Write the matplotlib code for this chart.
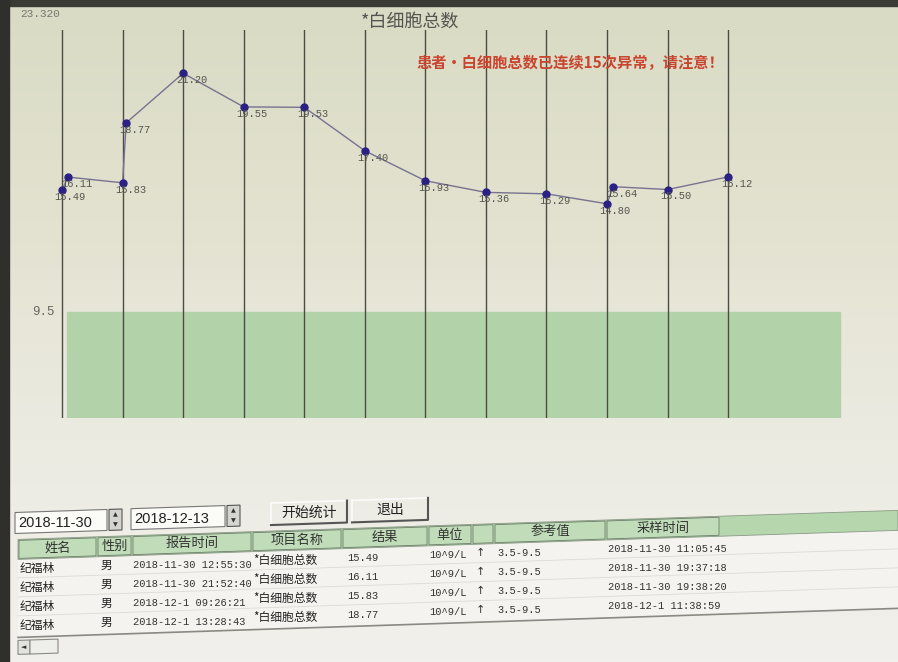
import numpy as np
import matplotlib.pyplot as plt
import matplotlib.transforms as mtransforms
from matplotlib.patches import Rectangle
from matplotlib.colors import LinearSegmentedColormap

plt.rcParams['font.family'] = ['Noto Sans CJK SC', 'DejaVu Sans']

# chart data: day index of each test (second test on the same day sits a bit right)
sample_day = [0, 0.1, 1, 1.06, 2, 3, 4, 5, 6, 7, 8, 9, 9.1, 10, 11]
wbc_values = [15.49, 16.11, 15.83, 18.77, 21.20, 19.55, 19.53, 17.40,
              15.93, 15.36, 15.29, 14.80, 15.64, 15.50, 16.12]
day_lines = list(range(12))
ref_low, ref_high = 3.5, 9.5
y_top = 23.32
chart_title = '*白细胞总数'
warning = '患者•白细胞总数已连续15次异常，请注意！'

# table data
date_from, date_to = '2018-11-30', '2018-12-13'
buttons = ['开始统计', '退出']
headers = ['姓名', '性别', '报告时间', '项目名称', '结果', '单位', '', '参考值', '采样时间']
names = ['纪福林'] * 4
sexes = ['男'] * 4
report_times = ['2018-11-30 12:55:30', '2018-11-30 21:52:40',
                '2018-12-1 09:26:21', '2018-12-1 13:28:43']
items = ['*白细胞总数'] * 4
results = ['15.49', '16.11', '15.83', '18.77']
units = ['10^9/L'] * 4
flags = ['↑'] * 4
ref_ranges = ['3.5-9.5'] * 4
sample_times = ['2018-11-30 11:05:45', '2018-11-30 19:37:18',
                '2018-11-30 19:38:20', '2018-12-1 11:38:59']

fig = plt.figure(figsize=(8.98, 6.62), dpi=100)

# background in pixel coordinates
bg = fig.add_axes([0, 0, 1, 1])
bg.set_xlim(0, 898)
bg.set_ylim(662, 0)
bg.axis('off')
cmap = LinearSegmentedColormap.from_list('screen', ['#d9dbc4', '#e3e2d0', '#ecebe2', '#f1f0ec'])
bg.imshow(np.linspace(0, 1, 200).reshape(-1, 1), cmap=cmap, extent=(0, 898, 662, 0),
          aspect='auto', zorder=0)
bg.add_patch(Rectangle((0, 0), 898, 6, color='#3b3b36', zorder=1))
bg.add_patch(Rectangle((0, 0), 9, 662, color='#2f2f2b', zorder=1))

# main chart
ax = fig.add_axes([55 / 898, 1 - 418 / 662, 790 / 898, 388 / 662])
ax.patch.set_alpha(0)
ax.set_xlim(-0.116, 12.93)
ax.set_ylim(4.3, y_top)
ax.axis('off')
ax.axhspan(ref_low, ref_high, xmin=0.015, xmax=0.994, color='#b2d3aa', zorder=1)
for d in day_lines:
    ax.axvline(d, color='#4c4c42', lw=1, zorder=2)
ax.plot(sample_day, wbc_values, color='#77728f', lw=1, marker='o', ms=5,
        mfc='#2b2183', mec='#2b2183', zorder=3)
for x, v in zip(sample_day, wbc_values):
    ax.annotate(f'{v:.2f}', (x, v), xytext=(6, -5), textcoords='offset points',
                ha='center', va='center', fontsize=7.5, family='Liberation Mono',
                color='#555550', zorder=4)
ax.text(-0.015, ref_high, '9.5', transform=ax.get_yaxis_transform(), ha='center',
        va='center', family='Liberation Mono', fontsize=9, color='#666660')

fig.text(20 / 898, 1 - 14 / 662, f'{y_top:.3f}', family='Liberation Mono', fontsize=8,
         color='#77776f', va='center')
fig.text(410 / 898, 1 - 22 / 662, chart_title, fontsize=13, color='#555550',
         ha='center', va='center')
fig.text(570 / 898, 1 - 63 / 662, warning, fontsize=11, fontweight='bold',
         color='#c9452f', ha='center', va='center')

# lower panel, slightly tilted like the photo
k = 0.033
skew = mtransforms.Affine2D(np.array([[1, 0, 0], [-k, 1, 0], [0, 0, 1]])) + bg.transData

# date boxes and buttons
for x0, w, txt in [(15, 92, date_from), (131, 94, date_to)]:
    bg.add_patch(Rectangle((x0, 513), w, 21, fc='#fbfbf8', ec='#777', lw=0.8,
                           transform=skew, zorder=2))
    bg.text(x0 + 3, 523.5, txt, transform=skew, fontsize=10.5, family='Liberation Sans',
            color='#222', va='center', zorder=3)
    sx = x0 + w + 2
    bg.add_patch(Rectangle((sx, 513), 13, 21, fc='#d4d4d0', ec='#555', lw=0.8,
                           transform=skew, zorder=2))
    bg.text(sx + 6.5, 518.5, '▲', transform=skew, fontsize=4.5, ha='center',
            va='center', color='#333', family='DejaVu Sans', zorder=3)
    bg.text(sx + 6.5, 528.5, '▼', transform=skew, fontsize=4.5, ha='center',
            va='center', color='#333', family='DejaVu Sans', zorder=3)

for x0, txt in zip([271, 352], buttons):
    bg.plot([x0, x0 + 76], [512, 512], color='#fbfbfb', lw=1.2, transform=skew, zorder=2)
    bg.plot([x0, x0], [512, 534], color='#fbfbfb', lw=1.2, transform=skew, zorder=2)
    bg.plot([x0, x0 + 76, x0 + 76], [534, 534, 512], color='#555', lw=1.5,
            transform=skew, zorder=2)
    bg.text(x0 + 38, 523, txt, transform=skew, fontsize=10, ha='center',
            va='center', color='#222', zorder=3)

# table
col_edges = [18, 97, 132, 252, 342, 428, 472, 494, 606, 720]
bg.add_patch(Rectangle((18, 560), 880, 78, fc='#f4f3ef', ec='none',
                       transform=skew, zorder=2))
bg.add_patch(Rectangle((18, 540), 880, 20, fc='#b6d6ae', ec='#8a9a86', lw=0.6,
                       transform=skew, zorder=2))
for i, h in enumerate(headers):
    x0, x1 = col_edges[i], col_edges[i + 1]
    bg.add_patch(Rectangle((x0 + 1, 541), x1 - x0 - 2, 18, fc='#c0dcb8', ec='#6f7f6c',
                           lw=0.6, transform=skew, zorder=3))
    bg.text((x0 + x1) / 2, 550, h, transform=skew, fontsize=9.5, ha='center',
            va='center', color='#333', zorder=4)

row_y = [569, 588, 607, 626]
mono = dict(family='Liberation Mono', fontsize=7.5, color='#333', va='center', zorder=4)
cjk = dict(fontsize=8.5, color='#222', va='center', zorder=4)
for i, y in enumerate(row_y):
    bg.text(20, y, names[i], transform=skew, **cjk)
    bg.text(106, y, sexes[i], transform=skew, ha='center', **cjk)
    bg.text(133, y, report_times[i], transform=skew, **mono)
    bg.text(253, y, items[i], transform=skew, **cjk)
    bg.text(347, y, results[i], transform=skew, **mono)
    bg.text(429, y, units[i], transform=skew, **mono)
    bg.text(480, y, flags[i], transform=skew, ha='center', family='DejaVu Sans',
            fontsize=8, color='#333', va='center', zorder=4)
    bg.text(497, y, ref_ranges[i], transform=skew, **mono)
    bg.text(608, y, sample_times[i], transform=skew, **mono)
    if i < len(row_y) - 1:
        bg.plot([18, 898], [y + 9.5, y + 9.5], color='#dcdcd6', lw=0.6,
                transform=skew, zorder=3)
bg.plot([18, 898], [638, 638], color='#8a8a84', lw=1.2, transform=skew, zorder=3)

# scrollbar
bg.add_patch(Rectangle((18, 641), 12, 14, fc='#e2e2de', ec='#8a8a84', lw=0.8,
                       transform=skew, zorder=3))
bg.add_patch(Rectangle((30, 641), 28, 14, fc='#eeeeea', ec='#8a8a84', lw=0.8,
                       transform=skew, zorder=3))
bg.text(24, 648, '◄', transform=skew, fontsize=5, ha='center', va='center',
        family='DejaVu Sans', color='#333', zorder=4)

fig.savefig('out.png', dpi=100)
